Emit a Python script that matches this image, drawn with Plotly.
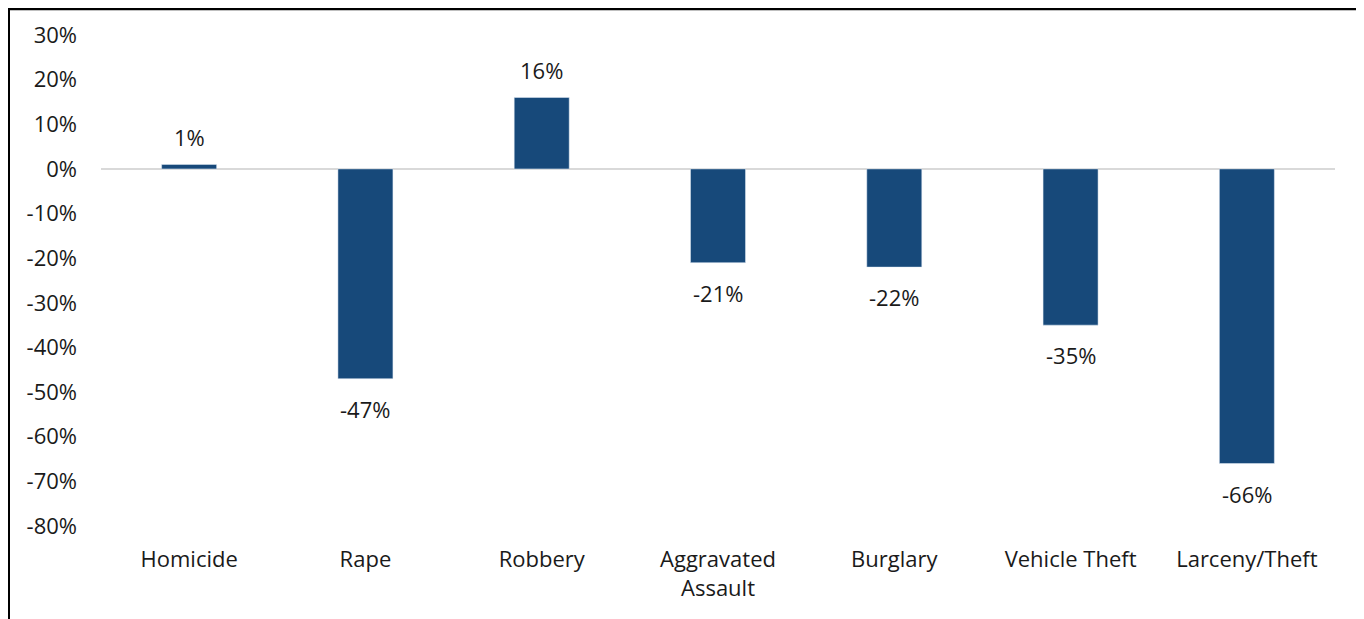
import plotly.graph_objects as go

categories = ["Homicide", "Rape", "Robbery", "Aggravated<br>Assault", "Burglary", "Vehicle Theft", "Larceny/Theft"]
values = [1, -47, 16, -21, -22, -35, -66]
tick_vals = [30, 20, 10, 0, -10, -20, -30, -40, -50, -60, -70, -80]
tick_text = [f"{v}%" for v in tick_vals]

BAR = "#17497A"
FONT = "Open Sans"
TXT = "#1a1a1a"
FS = 22

W, H = 1356, 611
L, R, T, B = 93, 29, 27, 93
pw = W - L - R
ph = H - T - B

fig = go.Figure(go.Bar(
    x=categories, y=values, marker_color=BAR, width=0.312,
    hoverinfo="skip",
))

for c, v in zip(categories, values):
    fig.add_annotation(
        x=c, y=v, text=f"{v}%", showarrow=False,
        yshift=27 if v >= 0 else -30, yanchor="middle",
        font=dict(family=FONT, size=FS, color=TXT),
    )

fig.update_layout(
    width=W, height=H,
    margin=dict(l=L, r=R, t=T, b=B, pad=0),
    paper_bgcolor="white", plot_bgcolor="white",
    showlegend=False,
    font=dict(family=FONT, size=FS, color=TXT),
    xaxis=dict(showgrid=False, showline=False, zeroline=False, ticks="",
               tickfont=dict(family=FONT, size=FS, color=TXT),
               ticklabelstandoff=18),
    yaxis=dict(range=[-80, 30], tickvals=tick_vals, ticktext=tick_text,
               showgrid=False, showline=False, zeroline=True,
               zerolinecolor="#D9D9D9", zerolinewidth=1.5,
               tickfont=dict(family=FONT, size=FS, color=TXT),
               ticklabelstandoff=23),
)

def px_x(p):
    return (p - L) / pw

def px_y(p):
    return 1 - (p - T) / ph

# frame lines (top black rule, left black rule, right light rule)
fig.add_shape(type="line", xref="paper", yref="paper",
              x0=px_x(0), x1=px_x(W), y0=px_y(1), y1=px_y(1),
              line=dict(color="black", width=2.5))
fig.add_shape(type="line", xref="paper", yref="paper",
              x0=px_x(1), x1=px_x(1), y0=px_y(0), y1=px_y(H),
              line=dict(color="black", width=2))
fig.add_shape(type="line", xref="paper", yref="paper",
              x0=px_x(1354), x1=px_x(1354), y0=px_y(1), y1=px_y(H),
              line=dict(color="#D0D0D0", width=1))

fig.write_html("out.html")
